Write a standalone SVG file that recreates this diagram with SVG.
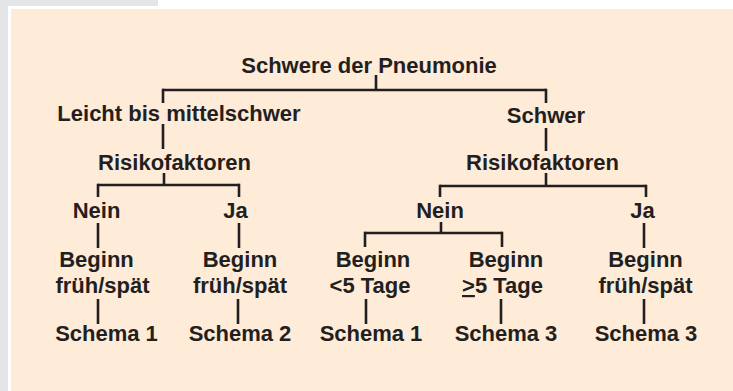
<svg xmlns="http://www.w3.org/2000/svg" width="733" height="391" viewBox="0 0 733 391">
<style>
text{font-family:"Liberation Sans",Arial,sans-serif;font-weight:bold;font-size:22px;fill:#231f20;text-anchor:middle}
.c line{stroke:#231f20;stroke-width:2.6;fill:none}
</style>
<rect x="0" y="0" width="733" height="391" fill="#ffffff"/>
<rect x="0" y="0" width="8" height="391" fill="#e4e5e7"/>
<rect x="0" y="0" width="158" height="6" fill="#e4e5e7"/>
<rect x="11" y="9" width="722" height="382" fill="#feebd8"/>
<g class="c" id="connectors">
<line x1="376" y1="75" x2="376" y2="90"/>
<line x1="163" y1="90" x2="546" y2="90"/>
<line x1="163" y1="88.7" x2="163" y2="103"/>
<line x1="163" y1="124" x2="163" y2="149"/>
<line x1="546" y1="88.7" x2="546" y2="103"/>
<line x1="546" y1="128" x2="546" y2="151"/>
<line x1="164" y1="173" x2="164" y2="185"/>
<line x1="98" y1="185" x2="239" y2="185"/>
<line x1="98" y1="183.7" x2="98" y2="197"/>
<line x1="239" y1="183.7" x2="239" y2="197"/>
<line x1="546" y1="173" x2="546" y2="186"/>
<line x1="440" y1="186" x2="646" y2="186"/>
<line x1="440" y1="184.7" x2="440" y2="197"/>
<line x1="646" y1="184.7" x2="646" y2="197"/>
<line x1="98" y1="223" x2="98" y2="248"/>
<line x1="239" y1="223" x2="239" y2="248"/>
<line x1="441" y1="222" x2="441" y2="233"/>
<line x1="365" y1="233" x2="502" y2="233"/>
<line x1="365" y1="231.7" x2="365" y2="247"/>
<line x1="502" y1="231.7" x2="502" y2="247"/>
<line x1="644" y1="223" x2="644" y2="248"/>
<line x1="98" y1="299" x2="98" y2="324"/>
<line x1="238" y1="299" x2="238" y2="324"/>
<line x1="366" y1="299" x2="366" y2="324"/>
<line x1="501" y1="299" x2="501" y2="324"/>
<line x1="644" y1="299" x2="644" y2="324"/>
</g>
<g id="root"><text x="369" y="73">Schwere der Pneumonie</text></g>
<g id="leicht"><text x="179" y="121">Leicht bis mittelschwer</text></g>
<g id="schwer"><text x="546" y="123">Schwer</text></g>
<g id="risiko-l"><text x="174.5" y="169.5">Risikofaktoren</text></g>
<g id="risiko-r"><text x="542.5" y="170">Risikofaktoren</text></g>
<g id="nein-l"><text x="96.5" y="218">Nein</text></g>
<g id="ja-l"><text x="235.5" y="218">Ja</text></g>
<g id="nein-r"><text x="440" y="218">Nein</text></g>
<g id="ja-r"><text x="642.5" y="218">Ja</text></g>
<g id="beginn1"><text x="96.5" y="267">Beginn</text><text x="102.5" y="293">früh/spät</text></g>
<g id="beginn2"><text x="240" y="267">Beginn</text><text x="240" y="293">früh/spät</text></g>
<g id="beginn3"><text x="373" y="267">Beginn</text><text x="370" y="293">&lt;5 Tage</text></g>
<g id="beginn4"><text x="506" y="267">Beginn</text><text x="502.5" y="293"><tspan text-decoration="underline">&gt;</tspan>5 Tage</text></g>
<g id="beginn5"><text x="645.5" y="267">Beginn</text><text x="645.5" y="293">früh/spät</text></g>
<g id="schema1a"><text x="106.5" y="341">Schema 1</text></g>
<g id="schema2"><text x="240" y="341">Schema 2</text></g>
<g id="schema1b"><text x="371" y="341">Schema 1</text></g>
<g id="schema3a"><text x="506" y="341">Schema 3</text></g>
<g id="schema3b"><text x="646" y="341">Schema 3</text></g>
</svg>
